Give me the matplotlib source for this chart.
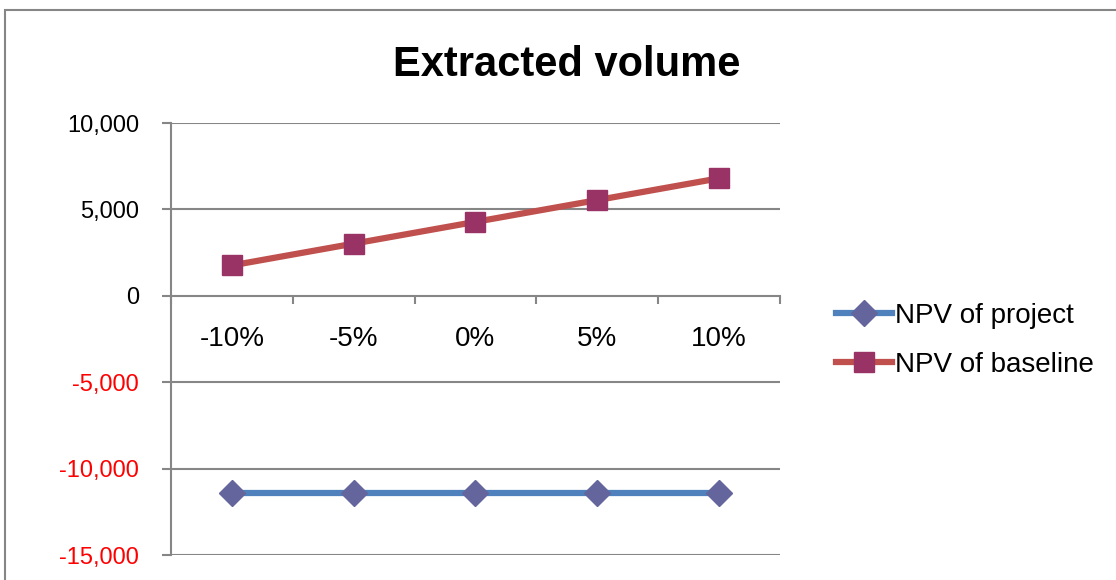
import matplotlib
matplotlib.use('Agg')
import matplotlib.pyplot as plt
from matplotlib.patches import Rectangle
from matplotlib.ticker import FuncFormatter

# data
categories = ['-10%', '-5%', '0%', '5%', '10%']
npv_project = [-11400, -11400, -11400, -11400, -11400]
npv_baseline = [1760, 3020, 4280, 5540, 6800]
y_ticks = [-15000, -10000, -5000, 0, 5000, 10000]

plt.rcParams['font.family'] = ['Liberation Sans', 'DejaVu Sans']

fig = plt.figure(figsize=(11.16, 5.8), dpi=100)
ax = fig.add_axes([0.1532, 0.0431, 0.5457, 0.7448])

xs = list(range(1, len(categories) + 1))
ax.plot(xs, npv_project, color='#4F81BD', lw=4.5, marker='D', ms=13,
        mfc='#65659D', mec='#65659D', label='NPV of project', zorder=3)
ax.plot(xs, npv_baseline, color='#C0504D', lw=4.5, marker='s', ms=14,
        mfc='#993366', mec='#993366', label='NPV of baseline', zorder=3)

ax.set_xlim(0.5, len(categories) + 0.5)
ax.set_ylim(-15000, 10000)

grid_c = '#868686'
for v in y_ticks:
    if v != 0:
        ax.axhline(v, color=grid_c, lw=1.5, zorder=1)

for s in ['top', 'right']:
    ax.spines[s].set_visible(False)
ax.spines['left'].set_color(grid_c)
ax.spines['left'].set_linewidth(1.5)
ax.spines['bottom'].set_position(('data', 0))
ax.spines['bottom'].set_color(grid_c)
ax.spines['bottom'].set_linewidth(1.5)

# category boundaries get the tick marks, labels sit at category centres
ax.set_xticks([x - 0.5 for x in xs] + [xs[-1] + 0.5])
ax.set_xticklabels([])
ax.set_xticks(xs, minor=True)
ax.set_xticklabels(categories, minor=True, fontsize=20)
ax.tick_params(axis='x', which='major', direction='out', length=6,
               width=1.5, color=grid_c)
ax.tick_params(axis='x', which='minor', length=0, pad=22)

ax.set_yticks(y_ticks)
ax.yaxis.set_major_formatter(FuncFormatter(lambda v, p: '{:,.0f}'.format(v)))
ax.tick_params(axis='y', direction='out', length=6.5, width=1.5,
               color=grid_c, labelsize=17, pad=16.5)
for lab, v in zip(ax.get_yticklabels(), y_ticks):
    lab.set_color('#FF0000' if v < 0 else 'black')

fig.text(0.508, 0.888, 'Extracted volume', ha='center', va='center',
         fontsize=30, fontweight='bold')

leg = ax.legend(loc='center left', bbox_to_anchor=(1.07, 0.497), frameon=False,
                fontsize=20, handlelength=2.0, handletextpad=0.1,
                labelspacing=0.85, borderpad=0)

fig.patches.append(Rectangle((0.0045, -0.1), 1.2, 1.0828, transform=fig.transFigure,
                             fill=False, edgecolor='#868686', lw=1.5))

fig.savefig('out.png', dpi=100)
